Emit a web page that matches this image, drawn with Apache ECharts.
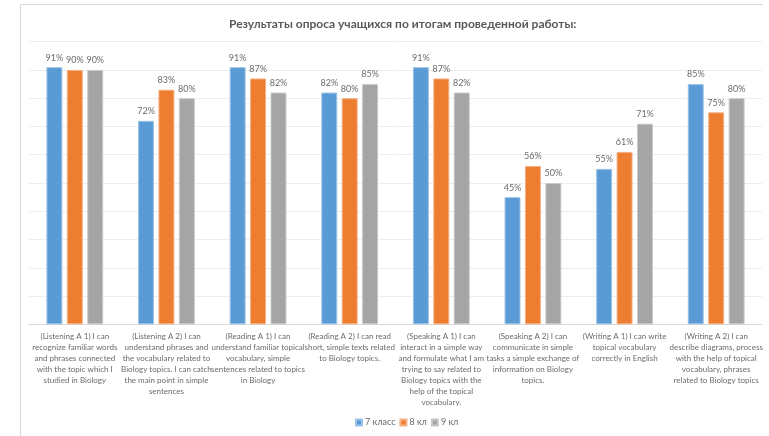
<!DOCTYPE html>
<html><head><meta charset="utf-8">
<script src="https://cdn.jsdelivr.net/npm/echarts@6/dist/echarts.min.js"></script>
<style>html,body{margin:0;padding:0;background:#fff}#c{width:769px;height:436px}</style>
</head><body><div id="c"></div>
<script>
const title = 'Результаты опроса учащихся по итогам проведенной работы:';
const categories = [
 '(Listening A 1) I can\nrecognize familiar words\nand phrases connected\nwith the topic which I\nstudied in Biology',
 '(Listening A 2) I can\nunderstand phrases and\nthe vocabulary related to\nBiology topics. I can catch\nthe main point in simple\nsentences',
 '(Reading A 1) I can\nunderstand familiar topical\nvocabulary, simple\nsentences related to topics\nin Biology',
 '(Reading A 2) I can read\nshort, simple texts related\nto Biology topics.',
 '(Speaking A 1) I can\ninteract in a simple way\nand formulate what I am\ntrying to say related to\nBiology topics with the\nhelp of the topical\nvocabulary.',
 '(Speaking A 2) I can\ncommunicate in simple\ntasks a simple exchange of\ninformation on Biology\ntopics.',
 '(Writing A 1) I can write\ntopical vocabulary\ncorrectly in English',
 '(Writing A 2) I can\ndescribe diagrams, process\nwith the help of topical\nvocabulary, phrases\nrelated to Biology topics'
];
const seriesNames = ['7 класс', '8 кл', '9 кл'];
const grade7 = [91, 72, 91, 82, 91, 45, 55, 85];
const grade8 = [90, 83, 87, 80, 87, 56, 61, 75];
const grade9 = [90, 80, 82, 85, 82, 50, 71, 80];
const colors = ['#5B9BD5', '#ED7D31', '#A5A5A5'];
const borders = ['#9DC3E6', '#F4B183', '#C9C9C9'];

const FONT = 'Lato';
const chart = echarts.init(document.getElementById('c'), null, {renderer: 'canvas'});
const mk = (name, data, i) => ({
  name, type: 'bar', data,
  barGap: '28%', barCategoryGap: '38%',
  itemStyle: {color: colors[i], borderColor: borders[i], borderWidth: 1},
  label: {show: true, position: 'top', formatter: '{c}%', color: '#6b6b6b', fontSize: 9, fontFamily: FONT, distance: 5},
  emphasis: {disabled: true}
});
chart.setOption({
  animation: false,
  title: {text: title, left: 224, top: 13, textStyle: {fontFamily: FONT, fontSize: 12, fontWeight: 'bold', color: '#595959'}},
  legend: {top: 413, left: 350, itemWidth: 6, itemHeight: 6, itemGap: 4, icon: 'rect',
    textStyle: {fontFamily: FONT, fontSize: 9, color: '#6b6b6b', padding: [0, 0, 0, -2]}, data: seriesNames},
  grid: {left: 29, right: 7, top: 41.7, bottom: 111.7, containLabel: false},
  xAxis: {type: 'category', data: categories,
    axisLine: {lineStyle: {color: '#D9D9D9'}}, axisTick: {show: false},
    axisLabel: {interval: 0, fontFamily: FONT, fontSize: 8, color: '#6b6b6b', lineHeight: 11, margin: 7}},
  yAxis: {type: 'value', min: 0, max: 100, interval: 10,
    axisLabel: {show: false}, axisLine: {show: false}, axisTick: {show: false},
    splitLine: {lineStyle: {color: '#EDEDED'}}},
  graphic: [
    {type: 'line', shape: {x1: 20.5, y1: 4, x2: 20.5, y2: 436}, style: {stroke: '#D9D9D9', lineWidth: 1}},
    {type: 'line', shape: {x1: 20, y1: 4.5, x2: 763, y2: 4.5}, style: {stroke: '#D9D9D9', lineWidth: 1}}
  ],
  series: [mk(seriesNames[0], grade7, 0), mk(seriesNames[1], grade8, 1), mk(seriesNames[2], grade9, 2)]
});
</script></body></html>
